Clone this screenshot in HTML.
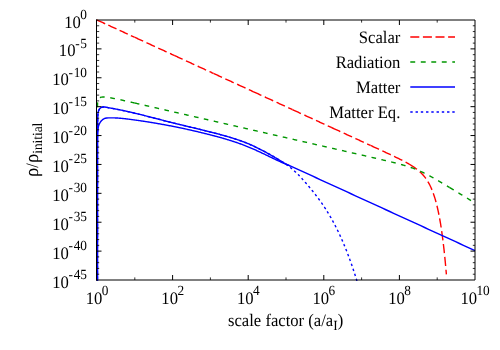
<!DOCTYPE html>
<html>
<head>
<meta charset="utf-8">
<title>Energy densities vs scale factor</title>
<style>
html, body { margin: 0; padding: 0; background: #ffffff; }
body { width: 500px; height: 350px; overflow: hidden; position: relative; font-family: "Liberation Serif", serif; }
</style>
</head>
<body>
<svg width="500" height="350" viewBox="0 0 500 350" style="position:absolute;left:0;top:0;display:block;will-change:transform">
<rect x="0" y="0" width="500" height="350" fill="#ffffff"/>
<defs><clipPath id="pc"><rect x="95.5" y="18.5" width="381.0" height="262.5"/></clipPath></defs>
<g clip-path="url(#pc)" fill="none" stroke-width="1.4" stroke-linejoin="round">
<path d="M97.00,20.00 L97.59,20.27 L98.19,20.54 L98.78,20.82 L99.37,21.09 L99.97,21.36 L100.56,21.63 L101.15,21.90 L101.75,22.18 L102.34,22.45 L102.93,22.72 L103.53,22.99 L104.12,23.26 L104.71,23.54 L105.30,23.81 L105.90,24.08 L106.49,24.35 L107.08,24.62 L107.68,24.90 L108.27,25.17 L108.86,25.44 L109.46,25.71 L110.05,25.98 L110.64,26.26 L111.24,26.53 L111.83,26.80 L112.42,27.07 L113.02,27.34 L113.61,27.62 L114.20,27.89 L114.80,28.16 L115.39,28.43 L115.98,28.70 L116.58,28.98 L117.17,29.25 L117.76,29.52 L118.35,29.79 L118.95,30.06 L119.54,30.34 L120.13,30.61 L120.73,30.88 L121.32,31.15 L121.91,31.42 L122.51,31.70 L123.10,31.97 L123.69,32.24 L124.29,32.51 L124.88,32.78 L125.47,33.06 L126.07,33.33 L126.66,33.60 L127.25,33.87 L127.85,34.14 L128.44,34.42 L129.03,34.69 L129.63,34.96 L130.22,35.23 L130.81,35.50 L131.40,35.78 L132.00,36.05 L132.59,36.32 L133.18,36.59 L133.78,36.86 L134.37,37.14 L134.75,37.31" stroke="#ff0000" stroke-dasharray="9.0 3.43"/>
<path d="M134.75,37.31 L134.96,37.41 L135.56,37.68 L136.15,37.95 L136.74,38.22 L137.34,38.50 L137.93,38.77 L138.52,39.04 L139.12,39.31 L139.71,39.58 L140.30,39.86 L140.90,40.13 L141.49,40.40 L142.08,40.67 L142.68,40.94 L143.27,41.22 L143.86,41.49 L144.46,41.76 L145.05,42.03 L145.64,42.30 L146.23,42.58 L146.83,42.85 L147.42,43.12 L148.01,43.39 L148.61,43.66 L149.20,43.94 L149.79,44.21 L150.39,44.48 L150.98,44.75 L151.57,45.02 L152.17,45.30 L152.76,45.57 L153.35,45.84 L153.95,46.11 L154.54,46.38 L155.13,46.66 L155.73,46.93 L156.32,47.20 L156.91,47.47 L157.51,47.74 L158.10,48.02 L158.69,48.29 L159.28,48.56 L159.88,48.83 L160.47,49.10 L161.06,49.38 L161.66,49.65 L162.25,49.92 L162.84,50.19 L163.44,50.46 L164.03,50.74 L164.62,51.01 L165.22,51.28 L165.81,51.55 L166.40,51.83 L167.00,52.10 L167.59,52.37 L168.18,52.64 L168.78,52.91 L169.37,53.19 L169.96,53.46 L170.56,53.73 L171.15,54.00 L171.74,54.27 L172.33,54.55 L172.93,54.82 L173.52,55.09 L174.11,55.36 L174.20,55.40" stroke="#ff0000" stroke-dasharray="9.24 3.69"/>
<path d="M174.20,55.40 L174.71,55.63 L175.30,55.91 L175.89,56.18 L176.49,56.45 L177.08,56.72 L177.67,56.99 L178.27,57.27 L178.86,57.54 L179.45,57.81 L180.05,58.08 L180.64,58.35 L181.23,58.63 L181.83,58.90 L182.42,59.17 L183.01,59.44 L183.61,59.71 L184.20,59.99 L184.79,60.26 L185.39,60.53 L185.98,60.80 L186.57,61.07 L187.16,61.35 L187.76,61.62 L188.35,61.89 L188.94,62.16 L189.54,62.43 L190.13,62.71 L190.72,62.98 L191.32,63.25 L191.91,63.52 L192.50,63.79 L193.10,64.07 L193.69,64.34 L194.28,64.61 L194.88,64.88 L195.47,65.15 L196.06,65.43 L196.66,65.70 L197.25,65.97 L197.84,66.24 L198.44,66.51 L199.03,66.79 L199.62,67.06 L200.21,67.33 L200.81,67.60 L201.40,67.87 L201.99,68.15 L202.59,68.42 L203.18,68.69 L203.77,68.96 L204.37,69.23 L204.96,69.51 L205.55,69.78 L206.15,70.05 L206.74,70.32 L207.33,70.59 L207.93,70.87 L208.52,71.14 L209.11,71.41 L209.71,71.68 L210.30,71.95 L210.89,72.23 L211.49,72.50 L212.08,72.77 L212.67,73.04 L213.26,73.31 L213.60,73.47" stroke="#ff0000" stroke-dasharray="9.24 3.69"/>
<path d="M213.60,73.47 L213.86,73.59 L214.45,73.86 L215.04,74.13 L215.64,74.40 L216.23,74.67 L216.82,74.95 L217.42,75.22 L218.01,75.49 L218.60,75.76 L219.20,76.03 L219.79,76.31 L220.38,76.58 L220.98,76.85 L221.57,77.12 L222.16,77.39 L222.76,77.67 L223.35,77.94 L223.94,78.21 L224.54,78.48 L225.13,78.75 L225.72,79.03 L226.32,79.30 L226.91,79.57 L227.50,79.84 L228.09,80.11 L228.69,80.39 L229.28,80.66 L229.87,80.93 L230.47,81.20 L231.06,81.47 L231.65,81.75 L232.25,82.02 L232.84,82.29 L233.43,82.56 L234.03,82.83 L234.62,83.11 L235.21,83.38 L235.81,83.65 L236.40,83.92 L236.99,84.19 L237.59,84.47 L238.18,84.74 L238.77,85.01 L239.37,85.28 L239.96,85.55 L240.55,85.83 L241.14,86.10 L241.74,86.37 L242.33,86.64 L242.92,86.91 L243.52,87.19 L244.11,87.46 L244.70,87.73 L245.30,88.00 L245.89,88.27 L246.48,88.55 L247.08,88.82 L247.67,89.09 L248.26,89.36 L248.86,89.63 L249.45,89.91 L250.04,90.18 L250.64,90.45 L251.23,90.72 L251.82,90.99 L252.42,91.27 L253.00,91.53" stroke="#ff0000" stroke-dasharray="9.24 3.69"/>
<path d="M253.00,91.53 L253.01,91.54 L253.60,91.81 L254.19,92.08 L254.79,92.35 L255.38,92.63 L255.97,92.90 L256.57,93.17 L257.16,93.44 L257.75,93.71 L258.35,93.99 L258.94,94.26 L259.53,94.53 L260.13,94.80 L260.72,95.07 L261.31,95.35 L261.91,95.62 L262.50,95.89 L263.09,96.16 L263.69,96.43 L264.28,96.71 L264.87,96.98 L265.47,97.25 L266.06,97.52 L266.65,97.79 L267.25,98.07 L267.84,98.34 L268.43,98.61 L269.02,98.88 L269.62,99.15 L270.21,99.43 L270.80,99.70 L271.40,99.97 L271.99,100.24 L272.58,100.51 L273.18,100.79 L273.77,101.06 L274.36,101.33 L274.96,101.60 L275.55,101.87 L276.14,102.15 L276.74,102.42 L277.33,102.69 L277.92,102.96 L278.52,103.23 L279.11,103.51 L279.70,103.78 L280.30,104.05 L280.89,104.32 L281.48,104.59 L282.07,104.87 L282.67,105.14 L283.26,105.41 L283.85,105.68 L284.45,105.95 L285.04,106.23 L285.63,106.50 L286.23,106.77 L286.82,107.04 L287.41,107.31 L288.01,107.59 L288.60,107.86 L289.19,108.13 L289.79,108.40 L290.38,108.67 L290.97,108.95 L291.57,109.22 L292.16,109.49 L292.50,109.65" stroke="#ff0000" stroke-dasharray="9.24 3.69"/>
<path d="M292.50,109.65 L292.75,109.76 L293.35,110.03 L293.94,110.31 L294.53,110.58 L295.13,110.85 L295.72,111.12 L296.31,111.39 L296.90,111.67 L297.50,111.94 L298.09,112.21 L298.68,112.48 L299.28,112.76 L299.87,113.03 L300.46,113.30 L301.06,113.57 L301.65,113.84 L302.24,114.12 L302.84,114.39 L303.43,114.66 L304.02,114.93 L304.62,115.20 L305.21,115.48 L305.80,115.75 L306.40,116.02 L306.99,116.29 L307.58,116.56 L308.18,116.84 L308.77,117.11 L309.36,117.38 L309.95,117.65 L310.55,117.92 L311.14,118.20 L311.73,118.47 L312.33,118.74 L312.92,119.01 L313.51,119.28 L314.11,119.56 L314.70,119.83 L315.29,120.10 L315.89,120.37 L316.48,120.64 L317.07,120.92 L317.67,121.19 L318.26,121.46 L318.85,121.73 L319.45,122.00 L320.04,122.28 L320.63,122.55 L321.23,122.82 L321.82,123.09 L322.41,123.36 L323.00,123.64 L323.60,123.91 L324.19,124.18 L324.78,124.45 L325.38,124.72 L325.97,125.00 L326.56,125.27 L327.16,125.54 L327.75,125.81 L328.34,126.08 L328.94,126.36 L329.53,126.63 L330.12,126.90 L330.72,127.17 L331.31,127.44 L331.90,127.71" stroke="#ff0000" stroke-dasharray="9.24 3.69"/>
<path d="M331.90,127.71 L331.90,127.72 L332.50,127.99 L333.09,128.26 L333.68,128.53 L334.28,128.80 L334.87,129.08 L335.46,129.35 L336.06,129.62 L336.65,129.89 L337.24,130.16 L337.83,130.44 L338.43,130.71 L339.02,130.98 L339.61,131.25 L340.21,131.52 L340.80,131.80 L341.39,132.07 L341.99,132.34 L342.58,132.61 L343.17,132.88 L343.77,133.16 L344.36,133.43 L344.95,133.70 L345.55,133.97 L346.14,134.24 L346.73,134.52 L347.33,134.79 L347.92,135.06 L348.51,135.33 L349.11,135.60 L349.70,135.88 L350.29,136.15 L350.88,136.42 L351.48,136.69 L352.07,136.96 L352.66,137.24 L353.26,137.51 L353.85,137.78 L354.44,138.05 L355.04,138.33 L355.63,138.60 L356.22,138.87 L356.82,139.14 L357.41,139.41 L358.00,139.69 L358.60,139.96 L359.19,140.23 L359.78,140.50 L360.38,140.77 L360.97,141.05 L361.56,141.32 L362.16,141.59 L362.75,141.86 L363.34,142.14 L363.93,142.41 L364.53,142.68 L365.12,142.95 L365.71,143.23 L366.31,143.50 L366.90,143.77 L367.49,144.04 L368.09,144.31 L368.68,144.59 L369.27,144.86 L369.87,145.13 L370.46,145.41 L370.60,145.47" stroke="#ff0000" stroke-dasharray="9.24 3.69"/>
<path d="M370.60,145.47 L371.05,145.68 L371.65,145.95 L372.24,146.22 L372.83,146.50 L373.43,146.77 L374.02,147.04 L374.61,147.32 L375.21,147.59 L375.80,147.86 L376.39,148.13 L376.99,148.41 L377.58,148.68 L378.17,148.96 L378.76,149.23 L379.36,149.50 L379.95,149.78 L380.54,150.05 L381.14,150.33 L381.73,150.60 L382.32,150.87 L382.92,151.15 L383.51,151.42 L384.10,151.70 L384.70,151.98 L385.29,152.25 L385.88,152.53 L386.48,152.80 L387.07,153.08 L387.66,153.36 L388.26,153.64 L388.85,153.91 L389.44,154.19 L390.04,154.47 L390.63,154.75 L391.22,155.03 L391.81,155.31 L392.41,155.59 L393.00,155.87 L393.59,156.16 L394.19,156.44 L394.78,156.72 L395.37,157.01 L395.97,157.29 L396.56,157.58 L397.15,157.87 L397.75,158.16 L398.34,158.45 L398.93,158.74 L399.53,159.04 L400.12,159.33 L400.71,159.63 L401.31,159.93 L401.90,160.23 L402.49,160.53 L403.09,160.84 L403.68,161.15 L404.27,161.46 L404.86,161.77 L405.46,162.09 L406.05,162.41 L406.64,162.73 L407.24,163.06 L407.83,163.39 L408.42,163.73 L409.02,164.07 L409.20,164.18" stroke="#ff0000" stroke-dasharray="9.24 3.69"/>
<path d="M409.20,164.18 L409.61,164.42 L410.20,164.77 L410.80,165.13 L411.39,165.49 L411.98,165.86 L412.58,166.24 L413.17,166.63 L413.76,167.02 L414.36,167.43 L414.95,167.84 L415.54,168.27 L416.14,168.70 L416.73,169.15 L417.32,169.61 L417.92,170.09 L418.51,170.58 L419.10,171.09 L419.69,171.62 L420.29,172.16 L420.88,172.73 L421.47,173.32 L422.07,173.93 L422.66,174.56 L423.25,175.23 L423.85,175.92 L424.44,176.65 L425.03,177.40 L425.63,178.20 L426.22,179.03 L426.81,179.91 L427.41,180.83 L428.00,181.80 L428.59,182.83 L429.19,183.91 L429.78,185.05 L430.37,186.25 L430.97,187.53 L431.56,188.88 L432.15,190.31 L432.74,191.83 L433.34,193.44 L433.93,195.15 L434.52,196.97 L435.12,198.90 L435.71,200.96 L436.30,203.16 L436.90,205.50 L437.49,207.99 L438.08,210.65 L438.68,213.49 L439.27,216.52 L439.86,219.75 L440.46,223.21 L441.05,226.91 L441.64,230.87 L442.24,235.10 L442.83,239.63 L443.42,244.47 L444.02,249.66 L444.61,255.22 L445.20,261.18 L445.79,267.56 L446.39,274.40" stroke="#ff0000" stroke-dasharray="9.24 3.69"/>
<path d="M97.47,107.20 L97.48,107.07 L97.48,106.94 L97.48,106.81 L97.48,106.68 L97.48,106.55 L97.48,106.42 L97.49,106.29 L97.49,106.16 L97.49,106.03 L97.49,105.90 L97.49,105.77 L97.50,105.64 L97.50,105.51 L97.50,105.38 L97.50,105.25 L97.51,105.12 L97.51,104.99 L97.51,104.87 L97.52,104.74 L97.52,104.61 L97.52,104.48 L97.53,104.35 L97.53,104.22 L97.54,104.10 L97.54,103.97 L97.55,103.84 L97.55,103.71 L97.56,103.58 L97.56,103.46 L97.57,103.33 L97.58,103.20 L97.58,103.08 L97.59,102.95 L97.60,102.82 L97.61,102.70 L97.62,102.57 L97.63,102.45 L97.64,102.32 L97.65,102.20 L97.66,102.07 L97.67,101.95 L97.68,101.83 L97.70,101.70 L97.71,101.58 L97.73,101.46 L97.74,101.34 L97.76,101.22 L97.78,101.10 L97.80,100.98 L97.82,100.86 L97.84,100.74 L97.86,100.62 L97.89,100.50 L97.92,100.38 L97.94,100.27 L97.97,100.15 L98.00,100.04 L98.04,99.92 L98.07,99.81 L98.11,99.70 L98.15,99.59 L98.19,99.48 L98.24,99.37 L98.29,99.26 L98.34,99.16 L98.39,99.05 L98.45,98.95 L98.51,98.85 L98.58,98.75 L98.65,98.65 L98.72,98.55 L98.80,98.46 L98.89,98.36 L98.97,98.27 L99.57,97.81 L100.17,97.50 L100.79,97.30 L101.41,97.17 L102.03,97.08 L102.66,97.03 L103.29,97.02 L103.91,97.02 L104.54,97.05 L105.17,97.09 L105.80,97.14 L106.42,97.20 L107.05,97.28 L107.68,97.36 L108.31,97.45 L108.94,97.54 L109.56,97.64 L110.19,97.75 L110.82,97.85 L111.45,97.97 L112.08,98.08 L112.70,98.20 L113.33,98.32 L113.96,98.45 L114.59,98.57 L115.22,98.70 L115.84,98.83 L116.47,98.96 L117.10,99.09 L117.73,99.22 L118.35,99.36 L118.98,99.49 L119.61,99.63 L120.24,99.76 L120.87,99.90 L121.49,100.04 L122.12,100.18 L122.75,100.31 L123.38,100.45 L124.01,100.59 L124.63,100.73 L125.26,100.87 L125.89,101.01 L126.52,101.16 L127.15,101.30 L127.77,101.44 L128.40,101.58 L129.03,101.72 L129.66,101.86 L130.28,102.01 L130.91,102.15 L131.54,102.29 L132.17,102.44 L132.80,102.58 L133.42,102.72 L134.05,102.86 L134.68,103.01 L134.75,103.02" stroke="#009600" stroke-dasharray="4.8 5.6"/>
<path d="M134.75,103.02 L135.31,103.15 L135.94,103.29 L136.56,103.44 L137.19,103.58 L137.82,103.72 L138.45,103.87 L139.08,104.01 L139.70,104.15 L140.33,104.30 L140.96,104.44 L141.59,104.59 L142.21,104.73 L142.84,104.87 L143.47,105.02 L144.10,105.16 L144.73,105.30 L145.35,105.45 L145.98,105.59 L146.61,105.74 L147.24,105.88 L147.87,106.02 L148.49,106.17 L149.12,106.31 L149.75,106.46 L150.38,106.60 L151.01,106.74 L151.63,106.89 L152.26,107.03 L152.89,107.17 L153.52,107.32 L154.14,107.46 L154.77,107.61 L155.40,107.75 L156.03,107.89 L156.66,108.04 L157.28,108.18 L157.91,108.33 L158.54,108.47 L159.17,108.61 L159.80,108.76 L160.42,108.90 L161.05,109.05 L161.68,109.19 L162.31,109.33 L162.94,109.48 L163.56,109.62 L164.19,109.77 L164.82,109.91 L165.45,110.05 L166.07,110.20 L166.70,110.34 L167.33,110.49 L167.96,110.63 L168.59,110.77 L169.21,110.92 L169.84,111.06 L170.47,111.21 L171.10,111.35 L171.73,111.49 L172.35,111.64 L172.98,111.78 L173.61,111.92 L174.20,112.06" stroke="#009600" stroke-dasharray="4.7 5.42"/>
<path d="M174.20,112.06 L174.24,112.07 L174.87,112.21 L175.49,112.36 L176.12,112.50 L176.75,112.64 L177.38,112.79 L178.00,112.93 L178.63,113.08 L179.26,113.22 L179.89,113.36 L180.52,113.51 L181.14,113.65 L181.77,113.80 L182.40,113.94 L183.03,114.08 L183.66,114.23 L184.28,114.37 L184.91,114.52 L185.54,114.66 L186.17,114.80 L186.80,114.95 L187.42,115.09 L188.05,115.24 L188.68,115.38 L189.31,115.52 L189.93,115.67 L190.56,115.81 L191.19,115.96 L191.82,116.10 L192.45,116.24 L193.07,116.39 L193.70,116.53 L194.33,116.68 L194.96,116.82 L195.59,116.96 L196.21,117.11 L196.84,117.25 L197.47,117.40 L198.10,117.54 L198.73,117.68 L199.35,117.83 L199.98,117.97 L200.61,118.12 L201.24,118.26 L201.87,118.40 L202.49,118.55 L203.12,118.69 L203.75,118.84 L204.38,118.98 L205.00,119.12 L205.63,119.27 L206.26,119.41 L206.89,119.55 L207.52,119.70 L208.14,119.84 L208.77,119.99 L209.40,120.13 L210.03,120.27 L210.66,120.42 L211.28,120.56 L211.91,120.71 L212.54,120.85 L213.17,120.99 L213.70,121.12" stroke="#009600" stroke-dasharray="4.7 5.42"/>
<path d="M213.70,121.12 L213.80,121.14 L214.42,121.28 L215.05,121.43 L215.68,121.57 L216.31,121.71 L216.93,121.86 L217.56,122.00 L218.19,122.15 L218.82,122.29 L219.45,122.43 L220.07,122.58 L220.70,122.72 L221.33,122.87 L221.96,123.01 L222.59,123.15 L223.21,123.30 L223.84,123.44 L224.47,123.59 L225.10,123.73 L225.73,123.87 L226.35,124.02 L226.98,124.16 L227.61,124.31 L228.24,124.45 L228.86,124.59 L229.49,124.74 L230.12,124.88 L230.75,125.03 L231.38,125.17 L232.00,125.31 L232.63,125.46 L233.26,125.60 L233.89,125.75 L234.52,125.89 L235.14,126.03 L235.77,126.18 L236.40,126.32 L237.03,126.47 L237.66,126.61 L238.28,126.75 L238.91,126.90 L239.54,127.04 L240.17,127.18 L240.79,127.33 L241.42,127.47 L242.05,127.62 L242.68,127.76 L243.31,127.90 L243.93,128.05 L244.56,128.19 L245.19,128.34 L245.82,128.48 L246.45,128.62 L247.07,128.77 L247.70,128.91 L248.33,129.06 L248.96,129.20 L249.59,129.34 L250.21,129.49 L250.84,129.63 L251.47,129.78 L252.10,129.92 L252.72,130.06 L253.15,130.16" stroke="#009600" stroke-dasharray="4.7 5.42"/>
<path d="M253.15,130.16 L253.35,130.21 L253.98,130.35 L254.61,130.50 L255.24,130.64 L255.86,130.78 L256.49,130.93 L257.12,131.07 L257.75,131.22 L258.38,131.36 L259.00,131.50 L259.63,131.65 L260.26,131.79 L260.89,131.94 L261.52,132.08 L262.14,132.22 L262.77,132.37 L263.40,132.51 L264.03,132.66 L264.65,132.80 L265.28,132.94 L265.91,133.09 L266.54,133.23 L267.17,133.38 L267.79,133.52 L268.42,133.66 L269.05,133.81 L269.68,133.95 L270.31,134.10 L270.93,134.24 L271.56,134.38 L272.19,134.53 L272.82,134.67 L273.45,134.81 L274.07,134.96 L274.70,135.10 L275.33,135.25 L275.96,135.39 L276.58,135.53 L277.21,135.68 L277.84,135.82 L278.47,135.97 L279.10,136.11 L279.72,136.25 L280.35,136.40 L280.98,136.54 L281.61,136.69 L282.24,136.83 L282.86,136.97 L283.49,137.12 L284.12,137.26 L284.75,137.41 L285.38,137.55 L286.00,137.69 L286.63,137.84 L287.26,137.98 L287.89,138.13 L288.51,138.27 L289.14,138.41 L289.77,138.56 L290.40,138.70 L291.03,138.85 L291.65,138.99 L292.28,139.13 L292.60,139.21" stroke="#009600" stroke-dasharray="4.7 5.42"/>
<path d="M292.60,139.21 L292.91,139.28 L293.54,139.42 L294.17,139.57 L294.79,139.71 L295.42,139.85 L296.05,140.00 L296.68,140.14 L297.31,140.29 L297.93,140.43 L298.56,140.57 L299.19,140.72 L299.82,140.86 L300.44,141.01 L301.07,141.15 L301.70,141.29 L302.33,141.44 L302.96,141.58 L303.58,141.73 L304.21,141.87 L304.84,142.01 L305.47,142.16 L306.10,142.30 L306.72,142.44 L307.35,142.59 L307.98,142.73 L308.61,142.88 L309.24,143.02 L309.86,143.16 L310.49,143.31 L311.12,143.45 L311.75,143.60 L312.37,143.74 L313.00,143.88 L313.63,144.03 L314.26,144.17 L314.89,144.32 L315.51,144.46 L316.14,144.60 L316.77,144.75 L317.40,144.89 L318.03,145.04 L318.65,145.18 L319.28,145.32 L319.91,145.47 L320.54,145.61 L321.17,145.76 L321.79,145.90 L322.42,146.04 L323.05,146.19 L323.68,146.33 L324.30,146.48 L324.93,146.62 L325.56,146.76 L326.19,146.91 L326.82,147.05 L327.44,147.20 L328.07,147.34 L328.70,147.48 L329.33,147.63 L329.96,147.77 L330.58,147.92 L331.21,148.06 L331.84,148.20 L332.10,148.26" stroke="#009600" stroke-dasharray="4.7 5.42"/>
<path d="M332.10,148.26 L332.47,148.35 L333.10,148.49 L333.72,148.64 L334.35,148.78 L334.98,148.92 L335.61,149.07 L336.23,149.21 L336.86,149.36 L337.49,149.50 L338.12,149.64 L338.75,149.79 L339.37,149.93 L340.00,150.08 L340.63,150.22 L341.26,150.36 L341.89,150.51 L342.51,150.65 L343.14,150.79 L343.77,150.94 L344.40,151.08 L345.03,151.23 L345.65,151.37 L346.28,151.51 L346.91,151.66 L347.54,151.80 L348.16,151.95 L348.79,152.09 L349.42,152.24 L350.05,152.38 L350.68,152.52 L351.30,152.67 L351.93,152.81 L352.56,152.96 L353.19,153.10 L353.82,153.24 L354.44,153.39 L355.07,153.53 L355.70,153.68 L356.33,153.82 L356.96,153.96 L357.58,154.11 L358.21,154.25 L358.84,154.40 L359.47,154.54 L360.09,154.68 L360.72,154.83 L361.35,154.97 L361.98,155.12 L362.61,155.26 L363.23,155.41 L363.86,155.55 L364.49,155.69 L365.12,155.84 L365.75,155.98 L366.37,156.13 L367.00,156.27 L367.63,156.42 L368.26,156.56 L368.89,156.71 L369.51,156.85 L370.14,156.99 L370.77,157.14 L371.40,157.28 L371.50,157.31" stroke="#009600" stroke-dasharray="4.7 5.42"/>
<path d="M371.50,157.31 L372.02,157.43 L372.65,157.57 L373.28,157.72 L373.91,157.86 L374.54,158.01 L375.16,158.15 L375.79,158.30 L376.42,158.45 L377.05,158.59 L377.68,158.74 L378.30,158.88 L378.93,159.03 L379.56,159.17 L380.19,159.32 L380.82,159.47 L381.44,159.61 L382.07,159.76 L382.70,159.91 L383.33,160.06 L383.96,160.20 L384.58,160.35 L385.21,160.50 L385.84,160.65 L386.47,160.80 L387.09,160.95 L387.72,161.10 L388.35,161.25 L388.98,161.40 L389.61,161.55 L390.23,161.70 L390.86,161.85 L391.49,162.01 L392.12,162.16 L392.75,162.32 L393.37,162.47 L394.00,162.63 L394.63,162.79 L395.26,162.94 L395.89,163.10 L396.51,163.26 L397.14,163.43 L397.77,163.59 L398.40,163.75 L399.02,163.92 L399.65,164.09 L400.28,164.26 L400.91,164.43 L401.54,164.60 L402.16,164.78 L402.79,164.95 L403.42,165.13 L404.05,165.31 L404.68,165.50 L405.30,165.68 L405.93,165.87 L406.56,166.07 L407.19,166.26 L407.82,166.46 L408.44,166.66 L409.07,166.87 L409.70,167.08 L410.33,167.29 L410.90,167.49" stroke="#009600" stroke-dasharray="4.7 5.42"/>
<path d="M410.90,167.49 L410.95,167.50 L411.58,167.72 L412.21,167.95 L412.84,168.18 L413.47,168.41 L414.09,168.65 L414.72,168.89 L415.35,169.13 L415.98,169.38 L416.61,169.64 L417.23,169.90 L417.86,170.16 L418.49,170.43 L419.12,170.70 L419.75,170.98 L420.37,171.26 L421.00,171.55 L421.63,171.84 L422.26,172.14 L422.88,172.44 L423.51,172.74 L424.14,173.05 L424.77,173.36 L425.40,173.67 L426.02,173.99 L426.65,174.32 L427.28,174.64 L427.91,174.97 L428.54,175.30 L429.16,175.64 L429.79,175.98 L430.42,176.32 L431.05,176.66 L431.68,177.01 L432.30,177.36 L432.93,177.71 L433.56,178.06 L434.19,178.42 L434.81,178.77 L435.44,179.13 L436.07,179.49 L436.70,179.85 L437.33,180.22 L437.95,180.58 L438.58,180.95 L439.21,181.32 L439.84,181.68 L440.47,182.05 L441.09,182.42 L441.72,182.80 L442.35,183.17 L442.98,183.54 L443.61,183.92 L444.23,184.29 L444.86,184.67 L445.49,185.04 L446.12,185.42 L446.74,185.79 L447.37,186.17 L448.00,186.55 L448.63,186.93 L449.26,187.31 L449.70,187.58" stroke="#009600" stroke-dasharray="4.7 5.42"/>
<path d="M449.70,187.58 L449.88,187.69 L450.51,188.07 L451.14,188.45 L451.77,188.83 L452.40,189.21 L453.02,189.59 L453.65,189.97 L454.28,190.35 L454.91,190.73 L455.54,191.11 L456.16,191.49 L456.79,191.88 L457.42,192.26 L458.05,192.64 L458.67,193.02 L459.30,193.40 L459.93,193.79 L460.56,194.17 L461.19,194.55 L461.81,194.93 L462.44,195.32 L463.07,195.70 L463.70,196.08 L464.33,196.47 L464.95,196.85 L465.58,197.23 L466.21,197.62 L466.84,198.00 L467.47,198.38 L468.09,198.77 L468.72,199.15 L469.35,199.53 L469.98,199.92 L470.60,200.30 L471.23,200.68 L471.86,201.07 L472.49,201.45 L473.12,201.83 L473.74,202.22 L474.37,202.60 L475.00,202.99" stroke="#009600" stroke-dasharray="4.7 5.42"/>
<path d="M97.45,300.00 L97.45,298.31 L97.45,296.63 L97.45,294.94 L97.45,293.26 L97.45,291.57 L97.45,289.89 L97.45,288.20 L97.45,286.52 L97.45,284.83 L97.45,283.15 L97.45,281.46 L97.45,279.78 L97.45,278.09 L97.45,276.41 L97.45,274.72 L97.45,273.04 L97.45,271.35 L97.45,269.67 L97.45,267.98 L97.45,266.30 L97.45,264.61 L97.45,262.93 L97.45,261.24 L97.45,259.56 L97.45,257.87 L97.45,256.19 L97.45,254.50 L97.45,252.82 L97.45,251.13 L97.45,249.45 L97.45,247.76 L97.45,246.08 L97.45,244.39 L97.45,242.71 L97.45,241.02 L97.45,239.34 L97.45,237.65 L97.45,235.97 L97.45,234.28 L97.45,232.60 L97.45,230.91 L97.45,229.23 L97.45,227.54 L97.45,225.86 L97.45,224.17 L97.45,222.49 L97.45,220.80 L97.45,219.12 L97.45,217.43 L97.45,215.75 L97.45,214.06 L97.45,212.38 L97.45,210.69 L97.45,209.01 L97.45,207.32 L97.45,205.64 L97.45,203.95 L97.45,202.27 L97.45,200.58 L97.45,198.90 L97.45,197.21 L97.45,195.53 L97.45,193.84 L97.45,192.16 L97.45,190.47 L97.45,188.79 L97.45,187.10 L97.45,185.42 L97.45,183.73 L97.45,182.05 L97.45,180.36 L97.45,178.68 L97.45,176.99 L97.45,175.31 L97.45,173.62 L97.45,171.94 L97.45,170.25 L97.45,168.57 L97.45,166.88 L97.45,165.20 L97.45,163.51 L97.45,161.83 L97.45,160.14 L97.45,158.46 L97.45,156.77 L97.45,155.09 L97.45,153.40 L97.45,151.72 L97.46,150.03 L97.46,148.35 L97.46,146.66 L97.47,144.98 L97.47,143.29 L97.47,141.61 L97.48,139.92 L97.48,138.24 L97.49,136.55 L97.49,134.87 L97.50,133.18 L97.51,131.50 L97.52,129.81 L97.54,128.13 L97.57,126.44 L97.60,124.76 L97.63,123.07 L97.67,121.39 L97.71,119.70 L97.75,118.01 L97.81,116.31 L97.89,114.63 L98.00,112.97 L98.38,111.32 L99.02,109.76 L99.96,108.30 L101.33,107.40 L102.98,107.02 L104.66,106.94 L106.33,107.25 L108.00,107.67 L108.50,107.75 L109.00,107.84 L109.50,107.92 L110.00,108.00 L110.49,108.09 L110.99,108.17 L111.49,108.26 L111.99,108.35 L112.49,108.43 L112.99,108.52 L113.49,108.61 L113.99,108.71 L114.49,108.80 L114.99,108.89 L115.48,108.98 L115.98,109.08 L116.48,109.17 L116.98,109.27 L117.48,109.37 L117.98,109.47 L118.48,109.57 L118.98,109.66 L119.48,109.77 L119.98,109.87 L120.47,109.97 L120.97,110.07 L121.47,110.17 L121.97,110.28 L122.47,110.38 L122.97,110.49 L123.47,110.60 L123.97,110.70 L124.47,110.81 L124.97,110.92 L125.46,111.03 L125.96,111.14 L126.46,111.25 L126.96,111.36 L127.46,111.47 L127.96,111.58 L128.46,111.70 L128.96,111.81 L129.46,111.92 L129.96,112.04 L130.45,112.15 L130.95,112.27 L131.45,112.38 L131.95,112.50 L132.45,112.62 L132.95,112.74 L133.45,112.85 L133.95,112.97 L134.45,113.09 L134.95,113.21 L135.44,113.33 L135.94,113.45 L136.44,113.57 L136.94,113.69 L137.44,113.82 L137.94,113.94 L138.44,114.06 L138.94,114.18 L139.44,114.31 L139.94,114.43 L140.43,114.56 L140.93,114.68 L141.43,114.80 L141.93,114.93 L142.43,115.05 L142.93,115.18 L143.43,115.31 L143.93,115.43 L144.43,115.56 L144.93,115.68 L145.42,115.81 L145.92,115.94 L146.42,116.07 L146.92,116.19 L147.42,116.32 L147.92,116.45 L148.42,116.58 L148.92,116.70 L149.42,116.83 L149.92,116.96 L150.41,117.09 L150.91,117.22 L151.41,117.35 L151.91,117.48 L152.41,117.61 L152.91,117.74 L153.41,117.86 L153.91,117.99 L154.41,118.12 L154.91,118.25 L155.40,118.38 L155.90,118.51 L156.40,118.64 L156.90,118.77 L157.40,118.90 L157.90,119.03 L158.40,119.16 L158.90,119.29 L159.40,119.42 L159.90,119.55 L160.39,119.67 L160.89,119.80 L161.39,119.93 L161.89,120.06 L162.39,120.19 L162.89,120.32 L163.39,120.45 L163.89,120.57 L164.39,120.70 L164.89,120.83 L165.38,120.96 L165.88,121.09 L166.38,121.21 L166.88,121.34 L167.38,121.47 L167.88,121.59 L168.38,121.72 L168.88,121.85 L169.38,121.97 L169.88,122.10 L170.37,122.22 L170.87,122.35 L171.37,122.47 L171.87,122.60 L172.37,122.72 L172.87,122.85 L173.37,122.97 L173.87,123.09 L174.37,123.22 L174.87,123.34 L175.36,123.46 L175.86,123.58 L176.36,123.71 L176.86,123.83 L177.36,123.95 L177.86,124.07 L178.36,124.19 L178.86,124.32 L179.36,124.44 L179.86,124.56 L180.35,124.68 L180.85,124.80 L181.35,124.92 L181.85,125.04 L182.35,125.16 L182.85,125.28 L183.35,125.40 L183.85,125.52 L184.35,125.64 L184.85,125.76 L185.34,125.88 L185.84,126.00 L186.34,126.12 L186.84,126.24 L187.34,126.36 L187.84,126.48 L188.34,126.60 L188.84,126.72 L189.34,126.84 L189.84,126.96 L190.33,127.08 L190.83,127.20 L191.33,127.32 L191.83,127.44 L192.33,127.56 L192.83,127.68 L193.33,127.80 L193.83,127.92 L194.33,128.04 L194.83,128.16 L195.32,128.28 L195.82,128.40 L196.32,128.52 L196.82,128.64 L197.32,128.76 L197.82,128.88 L198.32,129.00 L198.82,129.12 L199.32,129.25 L199.82,129.37 L200.31,129.49 L200.81,129.61 L201.31,129.73 L201.81,129.85 L202.31,129.98 L202.81,130.10 L203.31,130.22 L203.81,130.35 L204.31,130.47 L204.81,130.59 L205.30,130.72 L205.80,130.84 L206.30,130.96 L206.80,131.09 L207.30,131.21 L207.80,131.34 L208.30,131.46 L208.80,131.59 L209.30,131.71 L209.80,131.84 L210.29,131.97 L210.79,132.09 L211.29,132.22 L211.79,132.35 L212.29,132.47 L212.79,132.60 L213.29,132.73 L213.79,132.86 L214.29,132.99 L214.79,133.12 L215.28,133.25 L215.78,133.38 L216.28,133.51 L216.78,133.64 L217.28,133.77 L217.78,133.91 L218.28,134.04 L218.78,134.17 L219.28,134.30 L219.78,134.44 L220.27,134.57 L220.77,134.71 L221.27,134.84 L221.77,134.98 L222.27,135.11 L222.77,135.25 L223.27,135.39 L223.77,135.53 L224.27,135.67 L224.77,135.81 L225.26,135.95 L225.76,136.09 L226.26,136.23 L226.76,136.37 L227.26,136.52 L227.76,136.66 L228.26,136.81 L228.76,136.95 L229.26,137.10 L229.76,137.25 L230.25,137.40 L230.75,137.55 L231.25,137.70 L231.75,137.85 L232.25,138.01 L232.75,138.16 L233.25,138.32 L233.75,138.48 L234.25,138.64 L234.75,138.80 L235.24,138.96 L235.74,139.12 L236.24,139.29 L236.74,139.45 L237.24,139.62 L237.74,139.79 L238.24,139.96 L238.74,140.13 L239.24,140.30 L239.74,140.48 L240.23,140.65 L240.73,140.83 L241.23,141.01 L241.73,141.19 L242.23,141.38 L242.73,141.56 L243.23,141.75 L243.73,141.94 L244.23,142.13 L244.73,142.32 L245.22,142.51 L245.72,142.71 L246.22,142.91 L246.72,143.11 L247.22,143.31 L247.72,143.51 L248.22,143.72 L248.72,143.93 L249.22,144.14 L249.72,144.35 L250.21,144.57 L250.71,144.79 L251.21,145.00 L251.71,145.23 L252.21,145.45 L252.71,145.68 L253.21,145.90 L253.71,146.13 L254.21,146.37 L254.71,146.60 L255.20,146.84 L255.70,147.07 L256.20,147.31 L256.70,147.55 L257.20,147.80 L257.70,148.04 L258.20,148.29 L258.70,148.54 L259.20,148.79 L259.70,149.04 L260.19,149.30 L260.69,149.55 L261.19,149.81 L261.69,150.07 L262.19,150.33 L262.69,150.59 L263.19,150.86 L263.69,151.12 L264.19,151.39 L264.69,151.66 L265.18,151.93 L265.68,152.20 L266.18,152.47 L266.68,152.75 L267.18,153.02 L267.68,153.30 L268.18,153.58 L268.68,153.86 L269.18,154.14 L269.68,154.42 L270.17,154.70 L270.67,154.99 L271.17,155.27 L271.67,155.56 L272.17,155.85 L272.67,156.14 L273.17,156.43 L273.67,156.72 L274.17,157.01 L274.67,157.30 L275.16,157.60 L275.66,157.89 L276.16,158.19 L276.66,158.48 L277.16,158.78 L277.66,159.08 L278.16,159.38 L278.66,159.68 L279.16,159.98 L279.66,160.28 L280.15,160.58 L280.65,160.88 L281.15,161.19 L281.65,161.49 L282.15,161.80 L282.65,162.11 L283.15,162.42 L283.65,162.74 L284.15,163.05 L284.65,163.38 L285.14,163.54 L289.02,165.32 L292.89,167.09 L296.77,168.87 L300.64,170.65 L304.52,172.42 L308.39,174.20 L312.27,175.98 L316.14,177.75 L320.02,179.53 L323.89,181.31 L327.76,183.08 L331.64,184.86 L335.51,186.64 L339.39,188.41 L343.26,190.19 L347.14,191.97 L351.01,193.75 L354.89,195.52 L358.76,197.30 L362.64,199.08 L366.51,200.85 L370.39,202.63 L374.26,204.41 L378.13,206.18 L382.01,207.96 L385.88,209.74 L389.76,211.51 L393.63,213.29 L397.51,215.07 L401.38,216.84 L405.26,218.62 L409.13,220.40 L413.01,222.17 L416.88,223.95 L420.76,225.73 L424.63,227.50 L428.50,229.28 L432.38,231.06 L436.25,232.83 L440.13,234.61 L444.00,236.39 L447.88,238.16 L451.75,239.94 L455.63,241.72 L459.50,243.49 L463.38,245.27 L467.25,247.05 L471.13,248.82 L475.00,250.60" stroke="#0000ff"/>
<path d="M97.45,300.00 L97.45,298.43 L97.45,296.87 L97.45,295.30 L97.45,293.74 L97.45,292.17 L97.45,290.61 L97.45,289.04 L97.45,287.48 L97.45,285.91 L97.45,284.35 L97.45,282.78 L97.45,281.22 L97.45,279.65 L97.45,278.08 L97.45,276.52 L97.45,274.95 L97.45,273.39 L97.45,271.82 L97.45,270.26 L97.45,268.69 L97.45,267.13 L97.45,265.56 L97.45,264.00 L97.45,262.43 L97.45,260.87 L97.45,259.30 L97.45,257.73 L97.45,256.17 L97.45,254.60 L97.45,253.04 L97.45,251.47 L97.45,249.91 L97.45,248.34 L97.45,246.78 L97.45,245.21 L97.45,243.65 L97.45,242.08 L97.45,240.52 L97.45,238.95 L97.45,237.38 L97.45,235.82 L97.45,234.25 L97.45,232.69 L97.45,231.12 L97.45,229.56 L97.45,227.99 L97.45,226.43 L97.45,224.86 L97.45,223.30 L97.45,221.73 L97.45,220.17 L97.45,218.60 L97.45,217.03 L97.45,215.47 L97.45,213.90 L97.45,212.34 L97.45,210.77 L97.45,209.21 L97.45,207.64 L97.45,206.08 L97.45,204.51 L97.45,202.95 L97.45,201.38 L97.45,199.82 L97.45,198.25 L97.45,196.68 L97.45,195.12 L97.45,193.55 L97.45,191.99 L97.45,190.42 L97.45,188.86 L97.45,187.29 L97.45,185.73 L97.45,184.16 L97.45,182.60 L97.45,181.03 L97.45,179.47 L97.45,177.90 L97.45,176.34 L97.45,174.77 L97.45,173.20 L97.45,171.64 L97.45,170.07 L97.45,168.51 L97.45,166.94 L97.45,165.38 L97.45,163.81 L97.45,162.25 L97.45,160.68 L97.45,159.12 L97.45,157.55 L97.45,155.99 L97.46,154.42 L97.46,152.85 L97.47,151.29 L97.48,149.72 L97.49,148.16 L97.50,146.59 L97.51,145.03 L97.52,143.46 L97.53,141.90 L97.55,140.33 L97.57,138.77 L97.60,137.20 L97.65,135.63 L97.70,134.07 L97.77,132.51 L97.88,130.94 L98.02,129.36 L98.21,127.81 L98.46,126.29 L98.95,124.80 L99.61,123.37 L100.41,122.01 L101.38,120.80 L102.55,119.71 L103.84,118.87 L105.26,118.21 L106.80,117.95 L108.61,117.91 L109.22,117.89 L109.83,117.87 L110.43,117.86 L111.04,117.85 L111.65,117.85 L112.26,117.85 L112.87,117.86 L113.48,117.87 L114.09,117.88 L114.70,117.90 L115.30,117.93 L115.91,117.95 L116.52,117.98 L117.13,118.02 L117.74,118.06 L118.35,118.10 L118.96,118.14 L119.57,118.19 L120.17,118.24 L120.78,118.29 L121.39,118.35 L122.00,118.41 L122.61,118.47 L123.22,118.53 L123.83,118.60 L124.43,118.66 L125.04,118.73 L125.65,118.80 L126.26,118.88 L126.87,118.95 L127.48,119.02 L128.09,119.10 L128.70,119.18 L129.30,119.25 L129.91,119.33 L130.52,119.41 L131.13,119.49 L131.74,119.57 L132.35,119.65 L132.96,119.74 L133.57,119.82 L134.17,119.90 L134.78,119.98 L135.39,120.07 L136.00,120.15 L136.61,120.24 L137.22,120.32 L137.83,120.41 L138.43,120.50 L139.04,120.58 L139.65,120.67 L140.26,120.76 L140.87,120.85 L141.48,120.94 L142.09,121.03 L142.70,121.12 L143.30,121.21 L143.91,121.30 L144.52,121.40 L145.13,121.49 L145.74,121.58 L146.35,121.68 L146.96,121.77 L147.57,121.87 L148.17,121.96 L148.78,122.06 L149.39,122.16 L150.00,122.26 L150.61,122.35 L151.22,122.45 L151.83,122.55 L152.43,122.65 L153.04,122.75 L153.65,122.85 L154.26,122.96 L154.87,123.06 L155.48,123.16 L156.09,123.27 L156.70,123.37 L157.30,123.47 L157.91,123.58 L158.52,123.69 L159.13,123.79 L159.74,123.90 L160.35,124.01 L160.96,124.12 L161.57,124.23 L162.17,124.33 L162.78,124.44 L163.39,124.56 L164.00,124.67 L164.61,124.78 L165.22,124.89 L165.83,125.00 L166.43,125.12 L167.04,125.23 L167.65,125.35 L168.26,125.46 L168.87,125.58 L169.48,125.69 L170.09,125.81 L170.70,125.93 L171.30,126.05 L171.91,126.17 L172.52,126.29 L173.13,126.41 L173.74,126.53 L174.35,126.65 L174.96,126.77 L175.57,126.89 L176.17,127.01 L176.78,127.14 L177.39,127.26 L178.00,127.39 L178.61,127.51 L179.22,127.64 L179.83,127.76 L180.43,127.89 L181.04,128.02 L181.65,128.15 L182.26,128.28 L182.87,128.41 L183.48,128.54 L184.09,128.67 L184.70,128.80 L185.30,128.93 L185.91,129.06 L186.52,129.19 L187.13,129.33 L187.74,129.46 L188.35,129.60 L188.96,129.73 L189.57,129.87 L190.17,130.00 L190.78,130.14 L191.39,130.28 L192.00,130.42 L192.61,130.56 L193.22,130.70 L193.83,130.84 L194.43,130.98 L195.04,131.12 L195.65,131.26 L196.26,131.40 L196.87,131.54 L197.48,131.69 L198.09,131.83 L198.70,131.98 L199.30,132.12 L199.91,132.27 L200.52,132.41 L201.13,132.56 L201.74,132.71 L202.35,132.86 L202.96,133.01 L203.57,133.16 L204.17,133.31 L204.78,133.46 L205.39,133.61 L206.00,133.76 L206.61,133.91 L207.22,134.06 L207.83,134.22 L208.43,134.37 L209.04,134.53 L209.65,134.68 L210.26,134.84 L210.87,134.99 L211.48,135.15 L212.09,135.31 L212.70,135.47 L213.30,135.63 L213.91,135.79 L214.52,135.95 L215.13,136.11 L215.74,136.27 L216.35,136.43 L216.96,136.60 L217.57,136.76 L218.17,136.93 L218.78,137.10 L219.39,137.26 L220.00,137.43 L220.61,137.60 L221.22,137.77 L221.83,137.95 L222.43,138.12 L223.04,138.29 L223.65,138.47 L224.26,138.65 L224.87,138.83 L225.48,139.01 L226.09,139.19 L226.70,139.37 L227.30,139.55 L227.91,139.74 L228.52,139.92 L229.13,140.11 L229.74,140.30 L230.35,140.49 L230.96,140.68 L231.57,140.88 L232.17,141.07 L232.78,141.27 L233.39,141.47 L234.00,141.67 L234.61,141.87 L235.22,142.07 L235.83,142.28 L236.43,142.49 L237.04,142.70 L237.65,142.91 L238.26,143.12 L238.87,143.33 L239.48,143.55 L240.09,143.77 L240.70,143.99 L241.30,144.21 L241.91,144.44 L242.52,144.66 L243.13,144.89 L243.74,145.12 L244.35,145.36 L244.96,145.59 L245.57,145.83 L246.17,146.07 L246.78,146.31 L247.39,146.55 L248.00,146.80 L248.61,147.05 L249.22,147.30 L249.83,147.56 L250.43,147.81 L251.04,148.07 L251.65,148.33 L252.26,148.59 L252.87,148.86 L253.48,149.13 L254.09,149.40 L254.70,149.67 L255.30,149.94 L255.91,150.21 L256.52,150.49 L257.13,150.77 L257.74,151.05 L258.35,151.33 L258.96,151.61 L259.57,151.90 L260.17,152.18 L260.78,152.47 L261.39,152.75 L262.00,153.04 L262.61,153.33 L263.22,153.62 L263.83,153.91 L264.43,154.20 L265.04,154.49 L265.65,154.78 L266.26,155.08 L266.87,155.37 L267.48,155.66 L268.09,155.96 L268.70,156.25 L269.30,156.54 L269.91,156.83 L270.52,157.13 L271.13,157.42 L271.74,157.71 L272.35,158.00 L272.96,158.30 L273.57,158.59 L274.17,158.88 L274.78,159.17 L275.39,159.46 L276.00,159.74 L276.61,160.03 L277.22,160.32 L277.83,160.60 L278.43,160.89 L279.04,161.17 L279.65,161.45 L280.26,161.73 L280.87,162.01 L281.48,162.28 L282.09,162.56 L282.70,162.83 L283.30,163.10 L283.91,163.37 L284.52,163.64 L285.13,163.90 L285.74,164.17 L286.35,164.43 L286.96,164.69 L287.57,164.94 L288.17,165.20 L288.78,165.45 L289.39,165.70 L290.00,165.94" stroke="#0000ff"/>
<path d="M97.45,300.00 L97.45,298.31 L97.45,296.63 L97.45,294.94 L97.45,293.26 L97.45,291.57 L97.45,289.89 L97.45,288.20 L97.45,286.52 L97.45,284.83 L97.45,283.15 L97.45,281.46 L97.45,279.78 L97.45,278.09 L97.45,276.41 L97.45,274.72 L97.45,273.04 L97.45,271.35 L97.45,269.67 L97.45,267.98 L97.45,266.30 L97.45,264.61 L97.45,262.93 L97.45,261.24 L97.45,259.56 L97.45,257.87 L97.45,256.19 L97.45,254.50 L97.45,252.82 L97.45,251.13 L97.45,249.45 L97.45,247.76 L97.45,246.08 L97.45,244.39 L97.45,242.71 L97.45,241.02 L97.45,239.34 L97.45,237.65 L97.45,235.97 L97.45,234.28 L97.45,232.60 L97.45,230.91 L97.45,229.23 L97.45,227.54 L97.45,225.86 L97.45,224.17 L97.45,222.49 L97.45,220.80 L97.45,219.12 L97.45,217.43 L97.45,215.75 L97.45,214.06 L97.45,212.38 L97.45,210.69 L97.45,209.01 L97.45,207.32 L97.45,205.64 L97.45,203.95 L97.45,202.27 L97.45,200.58 L97.45,198.90 L97.45,197.21 L97.45,195.53 L97.45,193.84 L97.45,192.16 L97.45,190.47 L97.45,188.79 L97.45,187.10 L97.45,185.42 L97.45,183.73 L97.45,182.05 L97.45,180.36 L97.45,178.68 L97.45,176.99 L97.45,175.31 L97.45,173.62 L97.45,171.94 L97.45,170.25 L97.45,168.57 L97.45,166.88 L97.45,165.20 L97.45,163.51 L97.45,161.83 L97.45,160.14 L97.45,158.46 L97.45,156.77 L97.45,155.09 L97.45,153.40 L97.45,151.72 L97.46,150.03 L97.46,148.35 L97.46,146.66 L97.47,144.98 L97.47,143.29 L97.47,141.61 L97.48,139.92 L97.48,138.24 L97.49,136.55 L97.49,134.87 L97.50,133.18 L97.51,131.50 L97.52,129.81 L97.54,128.13 L97.57,126.44 L97.60,124.76 L97.63,123.07 L97.67,121.39 L97.71,119.70 L97.75,118.01 L97.81,116.31 L97.89,114.63 L98.00,112.97 L98.38,111.32 L99.02,109.76 L99.96,108.30 L101.33,107.40 L102.98,107.02 L104.66,106.94 L106.33,107.25 L108.00,107.67 L108.50,107.75 L109.00,107.84 L109.50,107.92 L110.00,108.00 L110.49,108.09 L110.99,108.17 L111.49,108.26 L111.99,108.35 L112.49,108.43 L112.99,108.52 L113.49,108.61 L113.99,108.71 L114.49,108.80 L114.99,108.89 L115.48,108.98 L115.98,109.08 L116.48,109.17 L116.98,109.27 L117.48,109.37 L117.98,109.47 L118.48,109.57 L118.98,109.66 L119.48,109.77 L119.98,109.87 L120.47,109.97 L120.97,110.07 L121.47,110.17 L121.97,110.28 L122.47,110.38 L122.97,110.49 L123.47,110.60 L123.97,110.70 L124.47,110.81 L124.97,110.92 L125.46,111.03 L125.96,111.14 L126.46,111.25 L126.96,111.36 L127.46,111.47 L127.96,111.58 L128.46,111.70 L128.96,111.81 L129.46,111.92 L129.96,112.04 L130.45,112.15 L130.95,112.27 L131.45,112.38 L131.95,112.50 L132.45,112.62 L132.95,112.74 L133.45,112.85 L133.95,112.97 L134.45,113.09 L134.95,113.21 L135.44,113.33 L135.94,113.45 L136.44,113.57 L136.94,113.69 L137.44,113.82 L137.94,113.94 L138.44,114.06 L138.94,114.18 L139.44,114.31 L139.94,114.43 L140.43,114.56 L140.93,114.68 L141.43,114.80 L141.93,114.93 L142.43,115.05 L142.93,115.18 L143.43,115.31 L143.93,115.43 L144.43,115.56 L144.93,115.68 L145.42,115.81 L145.92,115.94 L146.42,116.07 L146.92,116.19 L147.42,116.32 L147.92,116.45 L148.42,116.58 L148.92,116.70 L149.42,116.83 L149.92,116.96 L150.41,117.09 L150.91,117.22 L151.41,117.35 L151.91,117.48 L152.41,117.61 L152.91,117.74 L153.41,117.86 L153.91,117.99 L154.41,118.12 L154.91,118.25 L155.40,118.38 L155.90,118.51 L156.40,118.64 L156.90,118.77 L157.40,118.90 L157.90,119.03 L158.40,119.16 L158.90,119.29 L159.40,119.42 L159.90,119.55 L160.39,119.67 L160.89,119.80 L161.39,119.93 L161.89,120.06 L162.39,120.19 L162.89,120.32 L163.39,120.45 L163.89,120.57 L164.39,120.70 L164.89,120.83 L165.38,120.96 L165.88,121.09 L166.38,121.21 L166.88,121.34 L167.38,121.47 L167.88,121.59 L168.38,121.72 L168.88,121.85 L169.38,121.97 L169.88,122.10 L170.37,122.22 L170.87,122.35 L171.37,122.47 L171.87,122.60 L172.37,122.72 L172.87,122.85 L173.37,122.97 L173.87,123.09 L174.37,123.22 L174.87,123.34 L175.36,123.46 L175.86,123.58 L176.36,123.71 L176.86,123.83 L177.36,123.95 L177.86,124.07 L178.36,124.19 L178.86,124.32 L179.36,124.44 L179.86,124.56 L180.35,124.68 L180.85,124.80 L181.35,124.92 L181.85,125.04 L182.35,125.16 L182.85,125.28 L183.35,125.40 L183.85,125.52 L184.35,125.64 L184.85,125.76 L185.34,125.88 L185.84,126.00 L186.34,126.12 L186.84,126.24 L187.34,126.36 L187.84,126.48 L188.34,126.60 L188.84,126.72 L189.34,126.84 L189.84,126.96 L190.33,127.08 L190.83,127.20 L191.33,127.32 L191.83,127.44 L192.33,127.56 L192.83,127.68 L193.33,127.80 L193.83,127.92 L194.33,128.04 L194.83,128.16 L195.32,128.28 L195.82,128.40 L196.32,128.52 L196.82,128.64 L197.32,128.76 L197.82,128.88 L198.32,129.00 L198.82,129.12 L199.32,129.25 L199.82,129.37 L200.31,129.49 L200.81,129.61 L201.31,129.73 L201.81,129.85 L202.31,129.98 L202.81,130.10 L203.31,130.22 L203.81,130.35 L204.31,130.47 L204.81,130.59 L205.30,130.72 L205.80,130.84 L206.30,130.96 L206.80,131.09 L207.30,131.21 L207.80,131.34 L208.30,131.46 L208.80,131.59 L209.30,131.71 L209.80,131.84 L210.29,131.97 L210.79,132.09 L211.29,132.22 L211.79,132.35 L212.29,132.47 L212.79,132.60 L213.29,132.73 L213.79,132.86 L214.29,132.99 L214.79,133.12 L215.28,133.25 L215.78,133.38 L216.28,133.51 L216.78,133.64 L217.28,133.77 L217.78,133.91 L218.28,134.04 L218.78,134.17 L219.28,134.30 L219.78,134.44 L220.27,134.57 L220.77,134.71 L221.27,134.84 L221.77,134.98 L222.27,135.11 L222.77,135.25 L223.27,135.39 L223.77,135.53 L224.27,135.67 L224.77,135.81 L225.26,135.95 L225.76,136.09 L226.26,136.23 L226.76,136.37 L227.26,136.52 L227.76,136.66 L228.26,136.81 L228.76,136.95 L229.26,137.10 L229.76,137.25 L230.25,137.40 L230.75,137.55 L231.25,137.70 L231.75,137.85 L232.25,138.01 L232.75,138.16 L233.25,138.32 L233.75,138.48 L234.25,138.64 L234.75,138.80 L235.24,138.96 L235.74,139.12 L236.24,139.29 L236.74,139.45 L237.24,139.62 L237.74,139.79 L238.24,139.96 L238.74,140.13 L239.24,140.30 L239.74,140.48 L240.23,140.65 L240.73,140.83 L241.23,141.01 L241.73,141.19 L242.23,141.38 L242.73,141.56 L243.23,141.75 L243.73,141.94 L244.23,142.13 L244.73,142.32 L245.22,142.51 L245.72,142.71 L246.22,142.91 L246.72,143.11 L247.22,143.31 L247.72,143.51 L248.22,143.72 L248.72,143.93 L249.22,144.14 L249.72,144.35 L250.21,144.57 L250.71,144.79 L251.21,145.00 L251.71,145.23 L252.21,145.45 L252.71,145.68 L253.21,145.90 L253.71,146.13 L254.21,146.37 L254.71,146.60 L255.20,146.84 L255.70,147.07 L256.20,147.31 L256.70,147.55 L257.20,147.80 L257.70,148.04 L258.20,148.29 L258.70,148.54 L259.20,148.79 L259.70,149.04 L260.19,149.30 L260.69,149.55 L261.19,149.81 L261.69,150.07 L262.19,150.33 L262.69,150.59 L263.19,150.86 L263.69,151.12 L264.19,151.39 L264.69,151.66 L265.18,151.93 L265.68,152.20 L266.18,152.47 L266.68,152.75 L267.18,153.02 L267.68,153.30 L268.18,153.58 L268.68,153.86 L269.18,154.14 L269.68,154.42 L270.17,154.70 L270.67,154.99 L271.17,155.27 L271.67,155.56 L272.17,155.85 L272.67,156.14 L273.17,156.43 L273.67,156.72 L274.17,157.01 L274.67,157.30 L275.16,157.60 L275.66,157.89 L276.16,158.19 L276.66,158.48 L277.16,158.78 L277.66,159.08 L278.16,159.38 L278.66,159.68 L279.16,159.98 L279.66,160.28 L280.15,160.58 L280.65,160.88 L281.15,161.19 L281.65,161.49 L282.15,161.80 L282.65,162.11 L283.15,162.42 L283.65,162.74 L284.15,163.05 L284.65,163.38 L285.14,163.70 L285.64,164.04 L286.14,164.37 L286.64,164.72 L287.14,165.06 L287.64,165.42 L288.14,165.78 L288.64,166.15 L289.14,166.52 L289.64,166.90 L290.13,167.30 L290.63,167.70 L291.13,168.10 L291.63,168.52 L292.13,168.94 L292.63,169.37 L293.13,169.81 L293.63,170.26 L294.13,170.71 L294.63,171.17 L295.12,171.64 L295.62,172.11 L296.12,172.59 L296.62,173.08 L297.12,173.57 L297.62,174.07 L298.12,174.58 L298.62,175.09 L299.12,175.60 L299.62,176.12 L300.11,176.65 L300.61,177.18 L301.11,177.71 L301.61,178.25 L302.11,178.80 L302.61,179.35 L303.11,179.90 L303.61,180.46 L304.11,181.02 L304.61,181.59 L305.10,182.16 L305.60,182.73 L306.10,183.30 L306.60,183.88 L307.10,184.46 L307.60,185.05 L308.10,185.64 L308.60,186.23 L309.10,186.82 L309.60,187.42 L310.09,188.02 L310.59,188.62 L311.09,189.22 L311.59,189.83 L312.09,190.44 L312.59,191.06 L313.09,191.68 L313.59,192.30 L314.09,192.93 L314.59,193.56 L315.08,194.20 L315.58,194.84 L316.08,195.48 L316.58,196.13 L317.08,196.79 L317.58,197.45 L318.08,198.12 L318.58,198.79 L319.08,199.47 L319.58,200.16 L320.07,200.85 L320.57,201.54 L321.07,202.25 L321.57,202.96 L322.07,203.68 L322.57,204.40 L323.07,205.13 L323.57,205.87 L324.07,206.62 L324.57,207.38 L325.06,208.14 L325.56,208.91 L326.06,209.69 L326.56,210.48 L327.06,211.27 L327.56,212.08 L328.06,212.89 L328.56,213.71 L329.06,214.55 L329.56,215.39 L330.05,216.24 L330.55,217.10 L331.05,217.97 L331.55,218.85 L332.05,219.74 L332.55,220.64 L333.05,221.56 L333.55,222.48 L334.05,223.41 L334.55,224.36 L335.04,225.32 L335.54,226.28 L336.04,227.26 L336.54,228.26 L337.04,229.26 L337.54,230.27 L338.04,231.30 L338.54,232.34 L339.04,233.40 L339.54,234.46 L340.03,235.54 L340.53,236.63 L341.03,237.74 L341.53,238.86 L342.03,239.99 L342.53,241.14 L343.03,242.30 L343.53,243.47 L344.03,244.66 L344.53,245.86 L345.02,247.08 L345.52,248.31 L346.02,249.56 L346.52,250.82 L347.02,252.10 L347.52,253.40 L348.02,254.71 L348.52,256.03 L349.02,257.37 L349.52,258.73 L350.01,260.11 L350.51,261.50 L351.01,262.90 L351.51,264.33 L352.01,265.77 L352.51,267.23 L353.01,268.70 L353.51,270.20 L354.01,271.71 L354.51,273.24 L355.00,274.78 L355.50,276.35 L356.00,277.93 L356.50,279.54 L357.00,281.16" stroke="#0000ff" stroke-dasharray="2.4 2.85"/>
</g>
<g stroke="#000000" stroke-width="1" fill="none" stroke-linecap="butt">
<path d="M96.0,20.0 H475.0 V280.0 H96.0"/>
<path d="M96.5,19.5 V280.5"/>
<path d="M172.60,280.0 v-5.0 M172.60,20.0 v5.0 M248.20,280.0 v-5.0 M248.20,20.0 v5.0 M323.80,280.0 v-5.0 M323.80,20.0 v5.0 M399.40,280.0 v-5.0 M399.40,20.0 v5.0 M97.0,48.89 h4.5 M475.0,48.89 h-4.5 M97.0,77.78 h4.5 M475.0,77.78 h-4.5 M97.0,106.67 h4.5 M475.0,106.67 h-4.5 M97.0,135.56 h4.5 M475.0,135.56 h-4.5 M97.0,164.44 h4.5 M475.0,164.44 h-4.5 M97.0,193.33 h4.5 M475.0,193.33 h-4.5 M97.0,222.22 h4.5 M475.0,222.22 h-4.5 M97.0,251.11 h4.5 M475.0,251.11 h-4.5"/>
<path d="M134.80,280.0 v-2.6 M134.80,20.0 v2.6 M210.40,280.0 v-2.6 M210.40,20.0 v2.6 M286.00,280.0 v-2.6 M286.00,20.0 v2.6 M361.60,280.0 v-2.6 M361.60,20.0 v2.6 M437.20,280.0 v-2.6 M437.20,20.0 v2.6 M97.0,25.78 h2.2 M475.0,25.78 h-2.2 M97.0,31.56 h2.2 M475.0,31.56 h-2.2 M97.0,37.33 h2.2 M475.0,37.33 h-2.2 M97.0,43.11 h2.2 M475.0,43.11 h-2.2 M97.0,54.67 h2.2 M475.0,54.67 h-2.2 M97.0,60.44 h2.2 M475.0,60.44 h-2.2 M97.0,66.22 h2.2 M475.0,66.22 h-2.2 M97.0,72.00 h2.2 M475.0,72.00 h-2.2 M97.0,83.56 h2.2 M475.0,83.56 h-2.2 M97.0,89.33 h2.2 M475.0,89.33 h-2.2 M97.0,95.11 h2.2 M475.0,95.11 h-2.2 M97.0,100.89 h2.2 M475.0,100.89 h-2.2 M97.0,112.44 h2.2 M475.0,112.44 h-2.2 M97.0,118.22 h2.2 M475.0,118.22 h-2.2 M97.0,124.00 h2.2 M475.0,124.00 h-2.2 M97.0,129.78 h2.2 M475.0,129.78 h-2.2 M97.0,141.33 h2.2 M475.0,141.33 h-2.2 M97.0,147.11 h2.2 M475.0,147.11 h-2.2 M97.0,152.89 h2.2 M475.0,152.89 h-2.2 M97.0,158.67 h2.2 M475.0,158.67 h-2.2 M97.0,170.22 h2.2 M475.0,170.22 h-2.2 M97.0,176.00 h2.2 M475.0,176.00 h-2.2 M97.0,181.78 h2.2 M475.0,181.78 h-2.2 M97.0,187.56 h2.2 M475.0,187.56 h-2.2 M97.0,199.11 h2.2 M475.0,199.11 h-2.2 M97.0,204.89 h2.2 M475.0,204.89 h-2.2 M97.0,210.67 h2.2 M475.0,210.67 h-2.2 M97.0,216.44 h2.2 M475.0,216.44 h-2.2 M97.0,228.00 h2.2 M475.0,228.00 h-2.2 M97.0,233.78 h2.2 M475.0,233.78 h-2.2 M97.0,239.56 h2.2 M475.0,239.56 h-2.2 M97.0,245.33 h2.2 M475.0,245.33 h-2.2 M97.0,256.89 h2.2 M475.0,256.89 h-2.2 M97.0,262.67 h2.2 M475.0,262.67 h-2.2 M97.0,268.44 h2.2 M475.0,268.44 h-2.2 M97.0,274.22 h2.2 M475.0,274.22 h-2.2" stroke-opacity="0.8"/>
</g>
<g fill="none" stroke-width="1.5">
<path d="M410.3,37.0 H455.0" stroke="#ff0000" stroke-dasharray="9 3.6"/>
<path d="M410.3,62.0 H455.0" stroke="#009600" stroke-dasharray="4.9 5.6"/>
<path d="M410.3,87.0 H455.0" stroke="#0000ff"/>
<path d="M410.3,112.0 H455.0" stroke="#0000ff" stroke-dasharray="2.4 2.85"/>
</g>
<g font-family='"Liberation Serif", serif' font-size="17.5" fill="#000" text-rendering="geometricPrecision">
<text transform="translate(400.30,42.90) scale(0.95,1)" text-anchor="end">Scalar</text>
<text transform="translate(400.30,67.90) scale(0.95,1)" text-anchor="end">Radiation</text>
<text transform="translate(400.30,92.90) scale(0.95,1)" text-anchor="end">Matter</text>
<text transform="translate(400.30,117.90) scale(0.95,1)" text-anchor="end">Matter Eq.</text>
<text transform="translate(87.00,27.55) scale(0.95,1)" text-anchor="end">10<tspan font-size="14.0" dx="-0.6" dy="-8.55">0</tspan></text>
<text transform="translate(87.00,56.44) scale(0.95,1)" text-anchor="end">10<tspan font-size="14.0" dx="-0.3" dy="-8.55">-</tspan><tspan font-size="14.0" dx="0.75">5</tspan></text>
<text transform="translate(87.00,85.33) scale(0.95,1)" text-anchor="end">10<tspan font-size="14.0" dx="-0.3" dy="-8.55">-</tspan><tspan font-size="14.0" dx="0.75">10</tspan></text>
<text transform="translate(87.00,114.22) scale(0.95,1)" text-anchor="end">10<tspan font-size="14.0" dx="-0.3" dy="-8.55">-</tspan><tspan font-size="14.0" dx="0.75">15</tspan></text>
<text transform="translate(87.00,143.11) scale(0.95,1)" text-anchor="end">10<tspan font-size="14.0" dx="-0.3" dy="-8.55">-</tspan><tspan font-size="14.0" dx="0.75">20</tspan></text>
<text transform="translate(87.00,171.99) scale(0.95,1)" text-anchor="end">10<tspan font-size="14.0" dx="-0.3" dy="-8.55">-</tspan><tspan font-size="14.0" dx="0.75">25</tspan></text>
<text transform="translate(87.00,200.88) scale(0.95,1)" text-anchor="end">10<tspan font-size="14.0" dx="-0.3" dy="-8.55">-</tspan><tspan font-size="14.0" dx="0.75">30</tspan></text>
<text transform="translate(87.00,229.77) scale(0.95,1)" text-anchor="end">10<tspan font-size="14.0" dx="-0.3" dy="-8.55">-</tspan><tspan font-size="14.0" dx="0.75">35</tspan></text>
<text transform="translate(87.00,258.66) scale(0.95,1)" text-anchor="end">10<tspan font-size="14.0" dx="-0.3" dy="-8.55">-</tspan><tspan font-size="14.0" dx="0.75">40</tspan></text>
<text transform="translate(87.00,287.55) scale(0.95,1)" text-anchor="end">10<tspan font-size="14.0" dx="-0.3" dy="-8.55">-</tspan><tspan font-size="14.0" dx="0.75">45</tspan></text>
<text transform="translate(97.10,303.80) scale(0.95,1)" text-anchor="middle">10<tspan font-size="14.0" dx="-0.6" dy="-8.55">0</tspan></text>
<text transform="translate(172.70,303.80) scale(0.95,1)" text-anchor="middle">10<tspan font-size="14.0" dx="-0.6" dy="-8.55">2</tspan></text>
<text transform="translate(248.30,303.80) scale(0.95,1)" text-anchor="middle">10<tspan font-size="14.0" dx="-0.6" dy="-8.55">4</tspan></text>
<text transform="translate(323.90,303.80) scale(0.95,1)" text-anchor="middle">10<tspan font-size="14.0" dx="-0.6" dy="-8.55">6</tspan></text>
<text transform="translate(399.50,303.80) scale(0.95,1)" text-anchor="middle">10<tspan font-size="14.0" dx="-0.6" dy="-8.55">8</tspan></text>
<text transform="translate(475.10,303.80) scale(0.95,1)" text-anchor="middle">10<tspan font-size="14.0" dx="-0.6" dy="-8.55">10</tspan></text>
<text transform="translate(285.60,325.60) scale(0.95,1)" text-anchor="middle">scale factor (a/a<tspan font-size="14.0" dy="4.4">I</tspan><tspan dy="-4.4">)</tspan></text>
<text transform="translate(38.00,149.80) rotate(-90) scale(0.95,1)" text-anchor="middle"><tspan font-size="19.5">ρ</tspan>/<tspan font-size="19.5">ρ</tspan><tspan font-size="14.0" dy="4.4">initial</tspan></text>
</g>
</svg>
</body>
</html>
